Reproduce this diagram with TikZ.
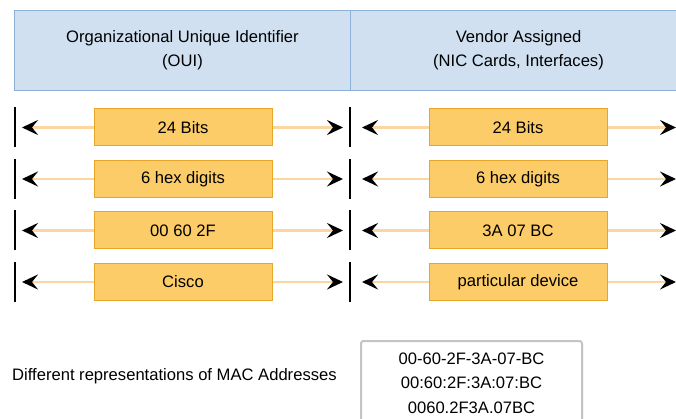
\documentclass[tikz,border=0pt]{standalone}
\usepackage{fontspec}
\setmainfont{Liberation Sans}
\usetikzlibrary{arrows.meta,shadows}
\definecolor{hdrfill}{RGB}{208,224,240}
\definecolor{hdrline}{RGB}{140,176,214}
\definecolor{boxfill}{RGB}{252,204,104}
\definecolor{boxline}{RGB}{232,166,40}
\definecolor{connline}{RGB}{251,214,162}
\definecolor{repline}{RGB}{196,196,196}
\tikzset{
  hdr/.style={draw=hdrline, line width=1pt, fill=hdrfill, minimum width=336pt, minimum height=80pt,
    anchor=north west, align=center, font=\fontsize{16.6}{24}\selectfont, inner sep=0pt},
  fieldbox/.style={draw=boxline, line width=1pt, fill=boxfill, minimum width=178pt, minimum height=37pt,
    inner sep=0pt, font=\fontsize{16.6}{18}\selectfont},
  conn/.style={draw=connline, line width=2.5pt, -{Stealth[black, length=16pt, width=15pt, inset=6pt]}},
  barline/.style={draw=black, line width=2pt},
  plain/.style={font=\fontsize{16.6}{18}\selectfont, inner sep=0pt},
  repbox/.style={draw=repline, line width=2pt, fill=white, rounded corners=2.5pt, drop shadow={opacity=0.2, shadow xshift=1pt, shadow yshift=-1pt},
    minimum width=221pt, minimum height=84pt, anchor=north, align=center,
    font=\fontsize{16.6}{24.5}\selectfont, inner sep=0pt}
}
\begin{document}
\begin{tikzpicture}[x=1pt,y=-1pt]
\useasboundingbox (0,0) rectangle (676,419);
\clip (0,0) rectangle (676,419);
\fill[white] (0,0) rectangle (676,419);
% header
\node[hdr] (oui) at (14,10) {Organizational Unique Identifier\\(OUI)};
\node[hdr] (vend) at (350,10) {Vendor Assigned\\(NIC Cards, Interfaces)};
% rows
\foreach \i/\y/\lt/\rt in {1/127.5/24 Bits/24 Bits, 2/179/6 hex digits/6 hex digits, 3/230.5/00 60 2F/3A 07 BC, 4/282/Cisco/particular device}{
  \node[fieldbox] (L\i) at (183,\y) {\lt};
  \node[fieldbox] (R\i) at (518,\y) {\rt};
  \coordinate (la\i) at (22,\y);
  \coordinate (lb\i) at (343,\y);
  \coordinate (ra\i) at (362,\y);
  \coordinate (rb\i) at (676,\y);
  \coordinate (bar0\i) at (15,\y);
  \coordinate (bar1\i) at (350,\y);
  \draw[conn] (L\i.west) -- (la\i);
  \draw[conn] (L\i.east) -- (lb\i);
  \draw[conn] (R\i.west) -- (ra\i);
  \draw[conn] (R\i.east) -- (rb\i);
  \draw[barline] ([yshift=-20pt]bar0\i) -- ([yshift=20pt]bar0\i);
  \draw[barline] ([yshift=-20pt]bar1\i) -- ([yshift=20pt]bar1\i);
}
% bottom
\node[plain, anchor=west] (diff) at (12,376) {Different representations of MAC Addresses};
\node[repbox] (reps) at (471.5,340) {00-60-2F-3A-07-BC\\00:60:2F:3A:07:BC\\0060.2F3A.07BC};
\end{tikzpicture}
\end{document}
